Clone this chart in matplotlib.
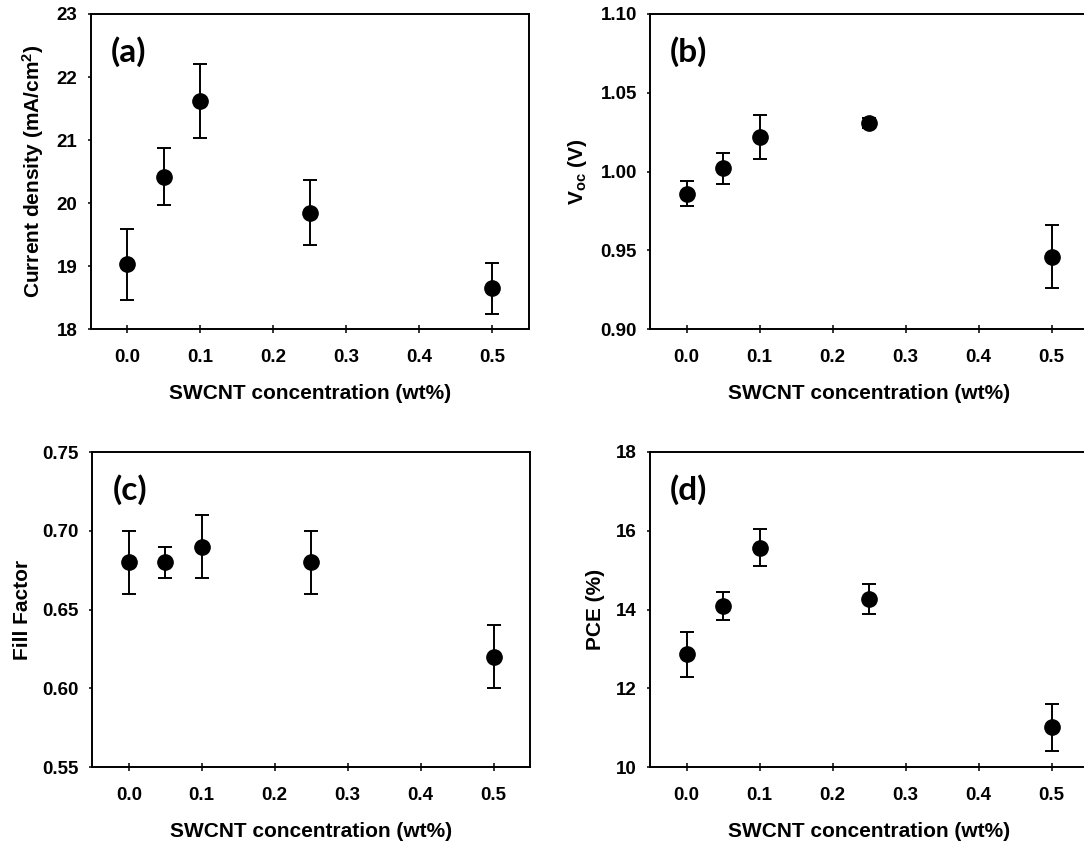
import matplotlib
matplotlib.use("Agg")
import matplotlib.pyplot as plt
from matplotlib.ticker import FormatStrFormatter

plt.rcParams['font.family'] = ['Liberation Sans', 'DejaVu Sans']
plt.rcParams['font.weight'] = 'bold'
plt.rcParams['mathtext.fontset'] = 'custom'
plt.rcParams['mathtext.rm'] = 'Liberation Sans:bold'
plt.rcParams['mathtext.bf'] = 'Liberation Sans:bold'
plt.rcParams['mathtext.it'] = 'Liberation Sans:bold'

# SWCNT loading (wt%)
conc = [0.0, 0.05, 0.1, 0.25, 0.5]

# Short-circuit current density (mA/cm^2)
jsc_mean = [19.03, 20.42, 21.62, 19.85, 18.65]
jsc_err = [0.56, 0.45, 0.58, 0.52, 0.40]

# Open-circuit voltage (V)
voc_mean = [0.986, 1.002, 1.022, 1.031, 0.946]
voc_err = [0.008, 0.010, 0.014, 0.003, 0.020]

# Fill factor
ff_mean = [0.68, 0.68, 0.69, 0.68, 0.62]
ff_err = [0.02, 0.01, 0.02, 0.02, 0.02]

# Power conversion efficiency (%)
pce_mean = [12.87, 14.10, 15.57, 14.27, 11.01]
pce_err = [0.57, 0.35, 0.47, 0.39, 0.59]

x_ticks = [0.0, 0.1, 0.2, 0.3, 0.4, 0.5]
jsc_ticks = [18, 19, 20, 21, 22, 23]
voc_ticks = [0.90, 0.95, 1.00, 1.05, 1.10]
ff_ticks = [0.55, 0.60, 0.65, 0.70, 0.75]
pce_ticks = [10, 12, 14, 16, 18]

W, H = 1084, 844
fig = plt.figure(figsize=(W / 100, H / 100), dpi=100)


def px_axes(left, top, right, bottom):
    return fig.add_axes([left / W, 1 - bottom / H, (right - left) / W, (bottom - top) / H])


panels = [
    (px_axes(90.7, 14, 529, 329.3), jsc_mean, jsc_err, jsc_ticks, '%d',
     'Current density (mA/cm$^{2}$)', '(a)'),
    (px_axes(650, 14, 1088, 329.3), voc_mean, voc_err, voc_ticks, '%.2f',
     'V$_{oc}$ (V)', '(b)'),
    (px_axes(92.3, 452, 530, 767.3), ff_mean, ff_err, ff_ticks, '%.2f',
     'Fill Factor', '(c)'),
    (px_axes(650, 452, 1088, 767.3), pce_mean, pce_err, pce_ticks, '%d',
     'PCE (%)', '(d)'),
]

for ax, mean, err, yt, fmt, ylabel, tag in panels:
    ax.errorbar(conc, mean, yerr=err, fmt='o', color='black', ms=11,
                elinewidth=1.4, capsize=5, capthick=1.4, zorder=3)
    ax.set_xlim(-0.05, 0.55)
    ax.set_ylim(yt[0], yt[-1])
    ax.set_xticks(x_ticks)
    ax.set_yticks(yt)
    ax.xaxis.set_major_formatter(FormatStrFormatter('%.1f'))
    ax.yaxis.set_major_formatter(FormatStrFormatter(fmt))
    for s in ax.spines.values():
        s.set_linewidth(1.4)
    ax.tick_params(axis='x', direction='inout', length=6, width=1.1,
                   labelsize=13.5, pad=11)
    ax.tick_params(axis='y', direction='out', length=2.5, width=1.1,
                   labelsize=13.5, pad=7)
    for lab in ax.get_xticklabels() + ax.get_yticklabels():
        lab.set_fontweight('bold')
    ax.set_xlabel('SWCNT concentration (wt%)', fontsize=15, fontweight='bold',
                  labelpad=13)
    ax.set_ylabel(ylabel, fontsize=15, fontweight='bold', labelpad=8)
    ax.text(0.046, 0.88, tag, transform=ax.transAxes, fontsize=24,
            fontweight='bold', family=['Lato', 'DejaVu Sans'],
            ha='left', va='center')

fig.savefig('out.png', dpi=100)
